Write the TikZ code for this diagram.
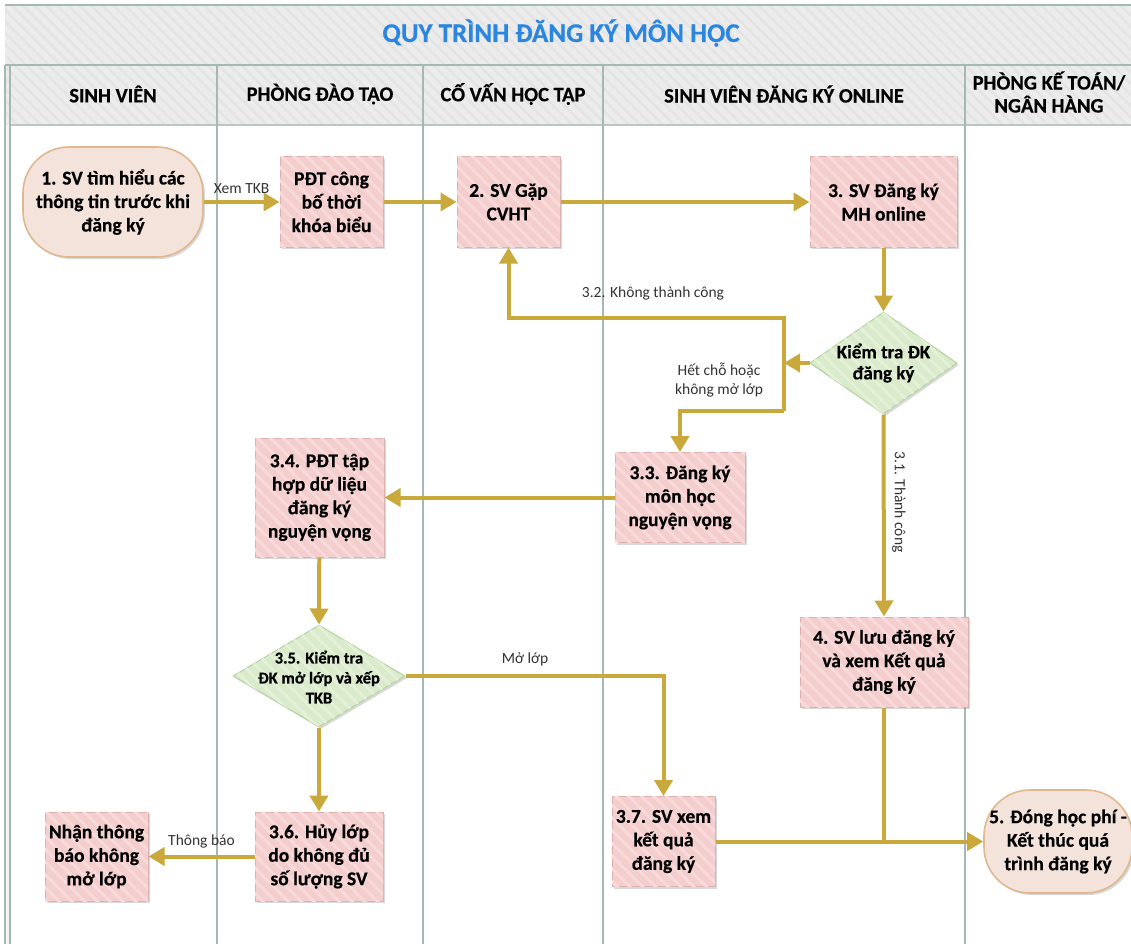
\documentclass[tikz,border=0pt]{standalone}
\usepackage{fontspec}
\setmainfont{Carlito}[BoldFeatures={FakeBold=0.4}]
\usetikzlibrary{arrows.meta,shadows,patterns.meta,shapes.geometric}
\definecolor{bandgray}{HTML}{ECECEC}
\definecolor{bandstripe}{HTML}{E4E4E4}
\definecolor{laneline}{HTML}{A5B9B2}
\definecolor{titleblue}{HTML}{2B86E0}
\definecolor{pinkfill}{HTML}{F4CDCD}
\definecolor{pinkstripe}{HTML}{F8DADA}
\definecolor{pinkborder}{HTML}{DDB2AE}
\definecolor{peachfill}{HTML}{F3E3DA}
\definecolor{peachborder}{HTML}{E0B88F}
\definecolor{greenfill}{HTML}{DAEBCB}
\definecolor{greenstripe}{HTML}{E4F1D8}
\definecolor{greenborder}{HTML}{B5D39E}
\definecolor{flowgold}{HTML}{C9A83C}
\begin{document}
\begin{tikzpicture}[x=1pt,y=-1pt,
  bodyfont/.style={font=\bfseries\fontsize{19.5}{23.5}\selectfont},
  headfont/.style={font=\bfseries\fontsize{20.5}{23}\selectfont},
  lbl/.style={font=\fontsize{15.5}{18.5}\selectfont, text=black!80, inner sep=1pt},
  shadowed/.style={drop shadow={shadow xshift=2pt,shadow yshift=-2pt,opacity=0.25,fill=black!60}},
  pinkbox/.style={bodyfont, align=center, inner sep=0pt, draw=pinkborder, line width=1pt, fill=pinkfill, shadowed,
     postaction={pattern={Lines[angle=-45,distance=9pt,line width=3pt]}, pattern color=pinkstripe}},
  stadium/.style={bodyfont, align=center, inner sep=0pt, draw=peachborder, line width=1.6pt, fill=peachfill, rounded corners=46pt, shadowed},
  greendia/.style={shape=diamond, inner sep=0pt, draw=greenborder, line width=1pt, fill=greenfill, shadowed,
     postaction={pattern={Lines[angle=-45,distance=9pt,line width=3pt]}, pattern color=greenstripe}},
  flowline/.style={draw=flowgold, line width=4pt},
  flow/.style={flowline, -{Triangle[length=16pt,width=18pt]}},
  lane/.style={draw=laneline, line width=1.2pt}
]
\useasboundingbox (0,0) rectangle (1131,944);
\fill[white] (0,0) rectangle (1131,944);
% title band and header band
\fill[bandgray] (5,5) rectangle (1131,125);
\fill[pattern={Lines[angle=-45,distance=8pt,line width=2.5pt]}, pattern color=bandstripe] (5,5) rectangle (1131,125);
\fill[bandgray!60] (5,125) rectangle (10,944);
\draw[lane, line width=2pt] (5,5) -- (1131,5);
\draw[lane, line width=1.6pt] (5,65) -- (1131,65);
\draw[lane, line width=2pt, draw=laneline!80] (10,125) -- (1131,125);
\draw[lane] (5,65) -- (5,944);
\foreach \lx in {10,217,423,603,965} { \draw[lane] (\lx,65) -- (\lx,944); }
\node[font=\bfseries\fontsize{27}{30}\selectfont, text=titleblue] (title) at (561,33) {QUY TRÌNH ĐĂNG KÝ MÔN HỌC};
\node[headfont] (h1) at (113,94) {SINH VIÊN};
\node[headfont] (h2) at (320,94) {PHÒNG ĐÀO TẠO};
\node[headfont] (h3) at (513,94) {CỐ VẤN HỌC TẬP};
\node[headfont] (h4) at (784,94) {SINH VIÊN ĐĂNG KÝ ONLINE};
\node[headfont, align=center] (h5) at (1049,92) {PHÒNG KẾ TOÁN/\\NGÂN HÀNG};
% nodes
\node[stadium, minimum width=180, minimum height=110] (n1) at (113,202) {1. SV tìm hiểu các\\thông tin trước khi\\đăng ký};
\node[pinkbox, minimum width=103, minimum height=90] (pdt) at (331.5,202) {PĐT công\\bố thời\\khóa biểu};
\node[pinkbox, minimum width=103, minimum height=90] (n2) at (508.5,202) {2. SV Gặp\\CVHT};
\node[pinkbox, minimum width=147, minimum height=90] (n3) at (883.5,202) {3. SV Đăng ký\\MH online};
\node[greendia, minimum width=147, minimum height=102] (d1) at (883.5,363) {};
\node[align=center, font=\bfseries\fontsize{19}{21}\selectfont] (d1t) at (883.5,363) {Kiểm tra ĐK\\đăng ký};
\node[pinkbox, minimum width=130, minimum height=90] (n33) at (680,497.5) {3.3. Đăng ký\\môn học\\nguyện vọng};
\node[pinkbox, minimum width=129, minimum height=119] (n34) at (319.5,497.5) {3.4. PĐT tập\\hợp dữ liệu\\đăng ký\\nguyện vọng};
\node[greendia, minimum width=172, minimum height=102] (d2) at (319,676) {};
\node[align=center, font=\bfseries\fontsize{16.5}{20}\selectfont] (d2t) at (319,677) {3.5. Kiểm tra\\ĐK mở lớp và xếp\\TKB};
\node[pinkbox, minimum width=168, minimum height=90] (n4) at (884,662) {4. SV lưu đăng ký\\và xem Kết quả\\đăng ký};
\node[pinkbox, minimum width=128, minimum height=89] (n36) at (319,856.5) {3.6. Hủy lớp\\do không đủ\\số lượng SV};
\node[pinkbox, minimum width=103, minimum height=89] (nhan) at (96.5,856.5) {Nhận thông\\báo không\\mở lớp};
\node[pinkbox, minimum width=103, minimum height=90] (n37) at (663.5,841.5) {3.7. SV xem\\kết quả\\đăng ký};
\node[stadium, minimum width=148, minimum height=103] (n5) at (1058,841.5) {5. Đóng học phí -\\Kết thúc quá\\trình đăng ký};
% connectors
\coordinate (j) at (784,363);
\coordinate (jt) at (784,318);
\coordinate (jb) at (784,411);
\draw[flow] (n1) -- node[lbl, above=5pt] (l1) {Xem TKB} (pdt);
\draw[flow] (pdt) -- (n2);
\draw[flow] (n2) -- (n3);
\draw[flow] (n3) -- (d1);
\draw[flow] (d1.west) -- (j);
\draw[flow] (jb) -- (jt) -| (n2.south);
\draw[flow] (jb) -| (n33.north);
\draw[flow] (d1.south) -- (n4.north);
\draw[flow] (n33) -- (n34);
\draw[flow] (n34) -- (d2.north);
\draw[flow] (d2.east) -| (n37.north);
\draw[flow] (d2.south) -- (n36.north);
\draw[flow] (n36) -- node[lbl, above=5pt] (l6) {Thông báo} (nhan);
\draw[flow] (n37) -- (n5);
\draw[flowline] (n4.south) -- (n4.south |- n37.east);
\node[lbl] (l32) at (653,293) {3.2. Không thành công};
\node[lbl, align=center] (lhet) at (719,380) {Hết chỗ hoặc\\không mở lớp};
\node[lbl, rotate=-90] (l31) at (899,502) {3.1. Thành công};
\node[lbl] (lmo) at (525,659) {Mở lớp};
\end{tikzpicture}
\end{document}
